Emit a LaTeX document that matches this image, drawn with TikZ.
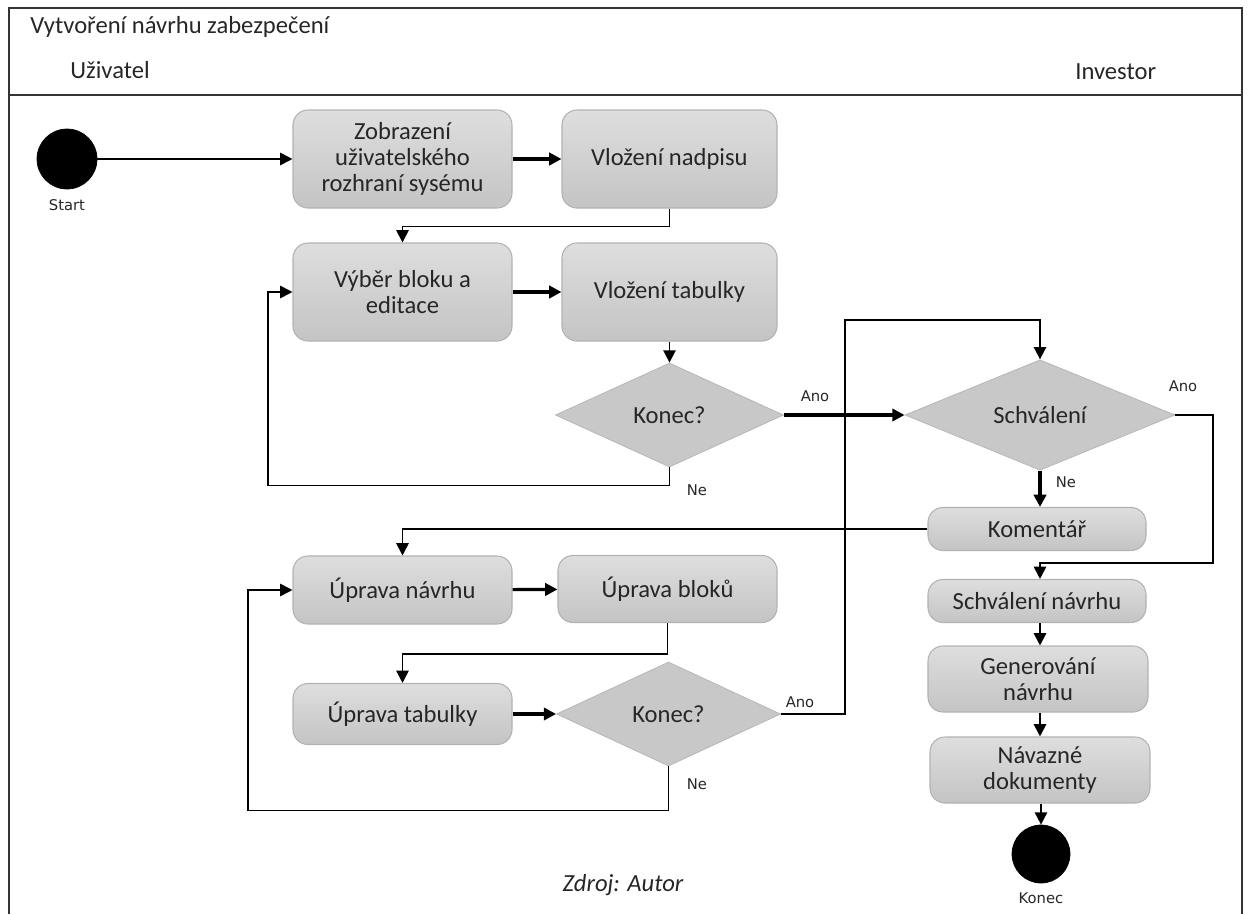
\documentclass[tikz,border=0pt]{standalone}
\usepackage{fontspec}
\setmainfont{Carlito}
\newfontfamily\lblfont{DejaVu Sans}
\usetikzlibrary{shapes.geometric,arrows.meta}
\begin{document}
\begin{tikzpicture}[x=0.02cm,y=-0.02cm,
  every node/.style={text=black!85},
  base/.style={font=\fontsize{14}{15}\selectfont, align=center, inner sep=0pt},
  act/.style={base, rounded corners=0.3cm, draw={rgb,255:red,178;green,178;blue,178}, line width=0.6pt,
    top color={rgb,255:red,222;green,222;blue,222}, bottom color={rgb,255:red,196;green,196;blue,196}},
  dec/.style={base, diamond, draw={rgb,255:red,185;green,185;blue,185}, line width=0.5pt,
    fill={rgb,255:red,200;green,200;blue,200}, minimum width=228*0.02cm, minimum height=104*0.02cm},
  dot/.style={circle, fill=black, draw=black, inner sep=0pt},
  lbl/.style={font=\lblfont\fontsize{8.4}{10}\selectfont, inner sep=0pt},
  tip/.style={-{Triangle[length=7pt,width=7pt]}},
  arr/.style={tip, line width=1pt, black},
  tarr/.style={tip, line width=1.8pt, black},
  frame/.style={line width=1.1pt, black!80}]
\useasboundingbox (0,0) rectangle (1249,914);

% swimlane frame
\draw[frame] (9,914) -- (9,8) -- (1242,8) -- (1242,914);
\draw[frame] (9,95) -- (1242,95);
\node[base, anchor=west] (title) at (30,27) {Vytvoření návrhu zabezpečení};
\node[base, anchor=west] (lane1) at (70,70) {Uživatel};
\node[base, anchor=west] (lane2) at (1075,72) {Investor};

% start and end
\node[dot, minimum size=60*0.02cm] (start) at (67,159) {};
\node[lbl] (startl) at (67,205) {Start};
\node[dot, minimum size=58*0.02cm] (end) at (1041,854) {};
\node[lbl] (endl) at (1041,898) {Konec};

% user lane activities
\node[act, minimum width=219*0.02cm, minimum height=98*0.02cm] (b1) at (402.5,159) {Zobrazení\\uživatelského\\rozhraní sysému};
\node[act, minimum width=215*0.02cm, minimum height=98*0.02cm] (b2) at (669.5,159) {Vložení nadpisu};
\node[act, minimum width=219*0.02cm, minimum height=98*0.02cm] (b3) at (402.5,292) {Výběr bloku a\\editace};
\node[act, minimum width=215*0.02cm, minimum height=98*0.02cm] (b4) at (669.5,292) {Vložení tabulky};
\node[dec] (d1) at (669.5,415) {Konec?};

\node[act, minimum width=219*0.02cm, minimum height=68*0.02cm] (un) at (402.5,590) {Úprava návrhu};
\node[act, minimum width=219*0.02cm, minimum height=67*0.02cm] (ub) at (667.5,589) {Úprava bloků};
\node[act, minimum width=219*0.02cm, minimum height=61*0.02cm] (ut) at (402.5,714) {Úprava tabulky};
\node[dec, minimum width=224*0.02cm] (d2) at (668.5,714) {Konec?};

% investor lane activities
\node[dec, minimum width=270*0.02cm] (s) at (1040,415) {Schválení};
\node[act, minimum width=218*0.02cm, minimum height=43*0.02cm] (k) at (1037,529) {Komentář};
\node[act, minimum width=218*0.02cm, minimum height=43*0.02cm] (sn) at (1037,601) {Schválení návrhu};
\node[act, minimum width=220*0.02cm, minimum height=66*0.02cm] (g) at (1038,679) {Generování\\návrhu};
\node[act, minimum width=220*0.02cm, minimum height=66*0.02cm] (n) at (1040,770) {Návazné\\dokumenty};

\node[base, font=\fontsize{14}{15}\selectfont\itshape] (src) at (623,885) {Zdroj: Autor};

% bend points
\coordinate (lp1) at (268,292);
\coordinate (lp2) at (248,590);
\coordinate (up) at (845,320);
\coordinate (rt) at (1213,563);

% flows
\draw[arr] (start) -- (b1);
\draw[tarr] (b1) -- (b2);
\draw[arr] (b2.south) -- ++(0,18) -| (b3.north);
\draw[tarr] (b3) -- (b4);
\draw[arr] (b4.south) -- (d1.north);
\draw[tarr] (d1.east) -- (s.west);
\node[lbl] (ano1) at (815,396) {Ano};
\draw[arr] (d1.south) -- ++(0,18) -| (lp1) -- (b3.west);
\node[lbl] (ne1) at (697,490) {Ne};

\draw[tarr] (s.south) -- (k.north -| s.south);
\node[lbl] (ne2) at (1066,482) {Ne};
\draw[arr] (s.east) -| (rt) -| (sn.north -| s.south);
\node[lbl] (ano2) at (1183,386) {Ano};
\draw[arr] (k.west) -| (un.north);

\draw[tarr] (un) -- (ub);
\draw[arr] (ub.south) -- ++(0,31) -| (ut.north);
\draw[tarr] (ut) -- (d2.west);
\draw[arr] (d2.east) -| (up) -| (s.north);
\node[lbl] (ano3) at (800,702) {Ano};
\draw[arr] (d2.south) -- ++(0,44) -| (lp2) -- (un.west);
\node[lbl] (ne3) at (697,784) {Ne};

\draw[arr] (sn.south -| s.south) -- (g.north -| s.south);
\draw[arr] (g.south -| s.south) -- (n.north -| s.south);
\draw[arr] (n.south -| end) -- (end.north);
\end{tikzpicture}
\end{document}
